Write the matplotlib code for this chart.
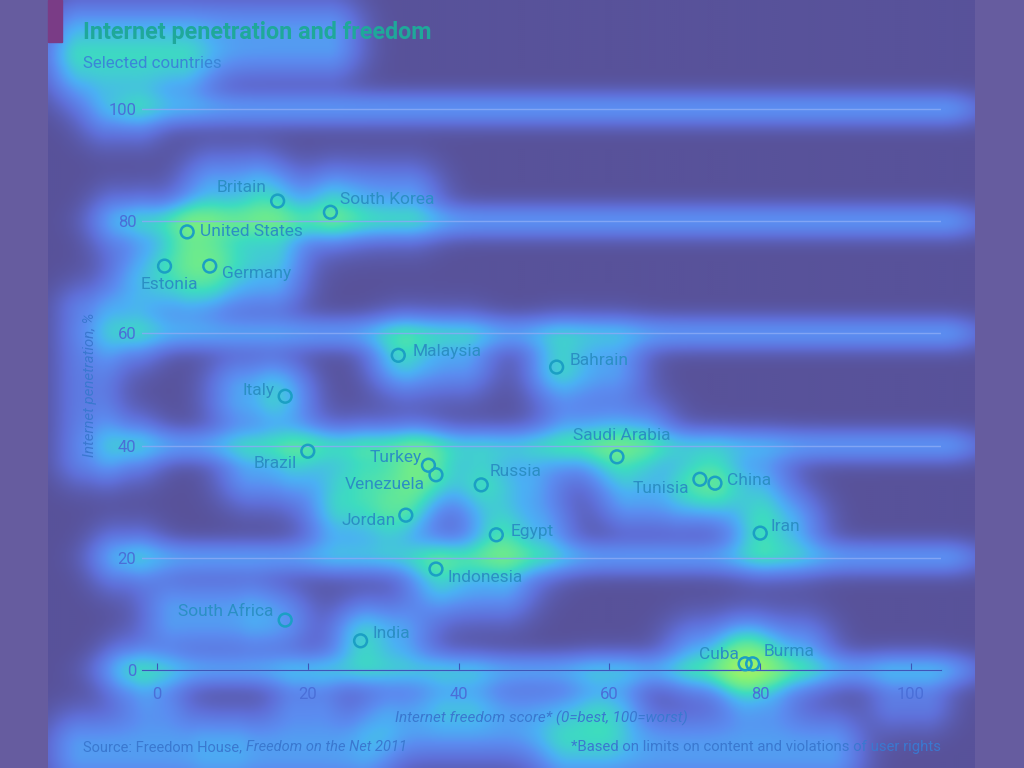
import numpy as np
import matplotlib.pyplot as plt
from matplotlib.colors import LinearSegmentedColormap
from matplotlib.patches import Rectangle

# data
countries = ["Britain", "South Korea", "United States", "Estonia", "Germany",
             "Malaysia", "Bahrain", "Italy", "Saudi Arabia", "Brazil", "Turkey",
             "Venezuela", "Russia", "Tunisia", "China", "Jordan", "Egypt", "Iran",
             "Indonesia", "South Africa", "India", "Cuba", "Burma"]
freedom = [16, 23, 4, 1, 7, 32, 53, 17, 61, 20, 36, 37, 43, 72, 74, 33, 45, 80,
           37, 17, 27, 78, 79]
penetration = [83.6, 81.6, 78.1, 72, 72, 56.1, 54, 48.8, 38, 39, 36.5, 34.8, 33,
               34, 33.3, 27.6, 24.1, 24.4, 18, 8.9, 5.2, 1.1, 1.1]
x_ticks = [0, 20, 40, 60, 80, 100]
y_ticks = [0, 20, 40, 60, 80, 100]

# where each label sits relative to its circle (pixels) and its alignment
label_place = {
    "Britain": (-11, 14, "right"), "South Korea": (10, 13, "left"),
    "United States": (13, 0, "left"), "Estonia": (5, -18, "center"),
    "Germany": (12, -7, "left"), "Malaysia": (14, 4, "left"),
    "Bahrain": (13, 7, "left"), "Italy": (-11, 6, "right"),
    "Saudi Arabia": (5, 21, "center"), "Brazil": (-11, -12, "right"),
    "Turkey": (-7, 8, "right"), "Venezuela": (-11, -10, "right"),
    "Russia": (8, 13, "left"), "Tunisia": (-11, -9, "right"),
    "China": (12, 3, "left"), "Jordan": (-10, -5, "right"),
    "Egypt": (14, 3, "left"), "Iran": (10, 7, "left"),
    "Indonesia": (12, -8, "left"), "South Africa": (-12, 9, "right"),
    "India": (12, 7, "left"), "Cuba": (-6, 9, "right"), "Burma": (11, 12, "left"),
}

plt.rcParams['font.family'] = ['Roboto', 'DejaVu Sans']

W, H = 1024, 768
fig = plt.figure(figsize=(W / 100, H / 100), dpi=100, facecolor='#665c9f')

# background panel that carries the glow
bg = fig.add_axes([48 / W, 0, (975 - 48) / W, 1], zorder=-5)
bg.axis('off')

ax = fig.add_axes([141.9 / W, 1 - 675.6 / H, (941.2 - 141.9) / W, (675.6 - 86.6) / H])
ax.set_facecolor('none')
ax.set_xlim(-2, 104)
ax.set_ylim(-1, 104)
for sp in ['top', 'right', 'left']:
    ax.spines[sp].set_visible(False)
ax.spines['bottom'].set_position(('data', 0))
ax.spines['bottom'].set_color('#3f55b8')
ax.set_xticks(x_ticks)
ax.set_yticks(y_ticks)
ax.grid(axis='y', color='#8aaaf5', lw=1, alpha=0.85)
ax.set_axisbelow(True)
ax.tick_params(axis='x', direction='in', length=5, color='#3f55b8', pad=12,
               labelsize=12, labelcolor='#4a6fd8')
ax.tick_params(axis='y', length=0, pad=4, labelsize=12, labelcolor='#4a6fd8')

ax.scatter(freedom, penetration, s=85, facecolors='none', edgecolors='#1b9fc4',
           linewidths=1.8, zorder=3)

label_texts = []
for name, fx, py in zip(countries, freedom, penetration):
    dx, dy, ha = label_place[name]
    t = ax.annotate(name, (fx, py), xytext=(dx, dy), textcoords='offset pixels',
                    ha=ha, va='center', fontsize=12.5, color='#2b8fc4')
    label_texts.append(t)

title = fig.text(83 / W, 1 - 33 / H, "Internet penetration and freedom",
                 fontsize=16.8, weight='bold', color='#1fa89a', va='center')
subtitle = fig.text(83 / W, 1 - 63 / H, "Selected countries", fontsize=12.2,
                    color='#3a86d8', va='center')
ylab = fig.text(90 / W, 1 - 385 / H, "Internet penetration, %", rotation=90,
                style='italic', fontsize=10.8, color='#3a78d0', ha='center', va='center')
xlab = fig.text(541 / W, 1 - 718 / H, "Internet freedom score* (0=best, 100=worst)",
                style='italic', fontsize=11, color='#3a78d0', ha='center', va='center')
src1 = fig.text(83 / W, 1 - 754 / H, "Source: Freedom House, ", fontsize=10.5,
                color='#3a78d0', va='bottom')
src2 = ax.annotate("Freedom on the Net 2011", xy=(1, 0), xycoords=src1, va='bottom',
                   style='italic', fontsize=10.5, color='#3a78d0', annotation_clip=False)
note = fig.text(941 / W, 1 - 754 / H,
                "*Based on limits on content and violations of user rights",
                fontsize=10.7, color='#3a78d0', ha='right', va='bottom')

fig.add_artist(Rectangle((48 / W, 1 - 42 / H), 14 / W, 42 / H,
                         transform=fig.transFigure, color='#7a3c86', zorder=5))

# glow field built from the drawn texts, circles and gridlines
fig.canvas.draw()
renderer = fig.canvas.get_renderer()
xs = np.arange(48, 975, 2) + 1.0
ys = np.arange(0, H, 2) + 1.0
X, Y = np.meshgrid(xs, ys)
field = np.zeros_like(X)


def box_glow(bb, sig, amp):
    dx = np.maximum(np.maximum(bb.x0 - X, X - bb.x1), 0)
    dy = np.maximum(np.maximum(bb.y0 - Y, Y - bb.y1), 0)
    return amp * np.exp(-(dx ** 2 + dy ** 2) / (2 * sig ** 2))


texts = label_texts + [title, subtitle, xlab, src1, src2, note]
for t in texts:
    field += box_glow(t.get_window_extent(renderer).shrunk(0.7, 0.4), 24, 0.72)
for t in ax.get_xticklabels() + ax.get_yticklabels() + [ylab]:
    field += box_glow(t.get_window_extent(renderer), 20, 0.4)

pts = ax.transData.transform(np.column_stack([freedom, penetration]))
for px, py in pts:
    field += 0.5 * np.exp(-((X - px) ** 2 + (Y - py) ** 2) / (2 * 22 ** 2))

x0, x1 = ax.transData.transform([(-2, 0), (104, 0)])[:, 0]
for yt in y_ticks:
    gy = ax.transData.transform((0, yt))[1]
    band = 0.6 * np.exp(-((Y - gy) ** 2) / (2 * 12 ** 2))
    band *= np.exp(-(np.maximum(np.maximum(x0 - X, X - x1), 0) ** 2) / (2 * 30 ** 2))
    field += band

field = 1 - np.exp(-field)
cmap = LinearSegmentedColormap.from_list(
    "heat", [(0, '#58529a'), (0.25, '#5f6fd8'), (0.45, '#5b8cf0'), (0.6, '#4bb0f4'),
             (0.75, '#3ddcc0'), (0.9, '#7ff07a'), (1.0, '#c8f050')])
bg.imshow(field, cmap=cmap, vmin=0, vmax=1, origin='lower',
          extent=(48, 975, 0, H), aspect='auto', interpolation='bilinear')
bg.set_xlim(48, 975)
bg.set_ylim(0, H)

fig.savefig("out.png", dpi=100, facecolor=fig.get_facecolor())
